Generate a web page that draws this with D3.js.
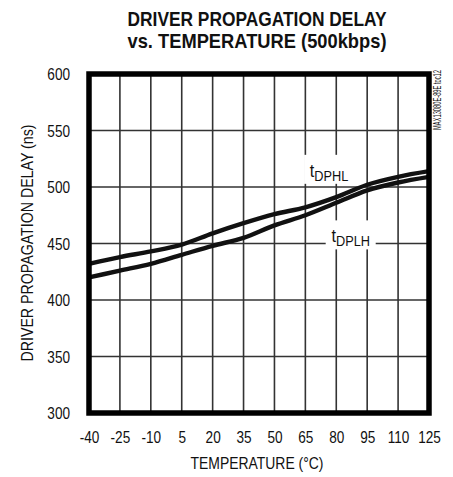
<!DOCTYPE html>
<html><head><meta charset="utf-8">
<script src="https://cdn.jsdelivr.net/npm/d3@7"></script>
<style>
html,body{margin:0;padding:0;background:#fff;}
svg{display:block;}
text{font-family:"Liberation Sans Narrow","Arial Narrow","Liberation Sans",sans-serif;fill:#111;}
</style></head>
<body>
<svg id="c" width="453" height="477"></svg>
<script>
const temps = [-40, -25, -10, 5, 20, 35, 50, 65, 80, 95, 110, 125];
const tDPHL = [432, 438, 443, 449, 459, 468, 476, 482, 491, 502, 509, 514];
const tDPLH = [420, 426, 432, 440, 448, 455, 466, 475, 486, 497, 504, 509];
const yTicks = [300, 350, 400, 450, 500, 550, 600];
const titleLines = ["DRIVER PROPAGATION DELAY", "vs. TEMPERATURE (500kbps)"];
const xTitle = "TEMPERATURE (°C)";
const yTitle = "DRIVER PROPAGATION DELAY (ns)";
const sideNote = "MAX13080E-89E toc12";

const svg = d3.select("#c");
const x = d3.scaleLinear().domain([-40, 125]).range([89, 429]);
const y = d3.scaleLinear().domain([300, 600]).range([413, 74]);

// grid
const g = svg.append("g");
g.selectAll("line.v").data(temps.slice(1, -1)).join("line")
  .attr("x1", d => x(d)).attr("x2", d => x(d)).attr("y1", y(600)).attr("y2", y(300))
  .attr("stroke", "#333").attr("stroke-width", 1.6);
g.selectAll("line.h").data(yTicks.slice(1, -1)).join("line")
  .attr("y1", d => y(d)).attr("y2", d => y(d)).attr("x1", x(-40)).attr("x2", x(125))
  .attr("stroke", "#333").attr("stroke-width", 1.6);

// labels with white backgrounds
function lbl(tx, vy, main, sub, w) {
  const cx = x(tx), by = y(vy);
  svg.append("rect").attr("x", cx - w / 2 - 5).attr("y", by - 22).attr("width", w + 10).attr("height", 29).attr("fill", "#fff");
  const t = svg.append("text").attr("text-anchor", "middle")
    .attr("transform", `translate(${cx},${by}) scale(0.85,1)`);
  t.append("tspan").attr("font-size", 19).text(main);
  t.append("tspan").attr("font-size", 15).attr("dy", 4).text(sub);
}
lbl(76.5, 509, "t", "DPHL", 40);
lbl(87, 451, "t", "DPLH", 40);

// lines
const line = d3.line().x((d, i) => x(temps[i])).y(d => y(d)).curve(d3.curveMonotoneX);
[tDPHL, tDPLH].forEach(s => {
  svg.append("path").attr("d", line(s)).attr("fill", "none").attr("stroke", "#111").attr("stroke-width", 4.4);
});

// frame
svg.append("rect").attr("x", x(-40)).attr("y", y(600)).attr("width", x(125) - x(-40)).attr("height", y(300) - y(600))
  .attr("fill", "none").attr("stroke", "#000").attr("stroke-width", 5.5);

// axes
const fmt = d => String(d);
const xAxis = d3.axisBottom(x).tickValues(temps).tickSize(0).tickPadding(0).tickFormat(fmt);
const xa = svg.append("g").attr("transform", "translate(0,443)").call(xAxis);
xa.select(".domain").remove();
xa.selectAll("text").attr("font-size", 17).attr("dy", 0).attr("fill", "#111")
  .attr("transform", "scale(0.8,1)")
  .style("font-family", '"Liberation Sans Narrow","Arial Narrow","Liberation Sans",sans-serif');

const yAxis = d3.axisLeft(y).tickValues(yTicks).tickSize(0).tickPadding(0).tickFormat(fmt);
const ya = svg.append("g").attr("transform", "translate(70,0)").call(yAxis);
ya.select(".domain").remove();
ya.selectAll("text").attr("font-size", 17).attr("dy", "0.35em").attr("fill", "#111")
  .attr("transform", "scale(0.8,1)")
  .style("font-family", '"Liberation Sans Narrow","Arial Narrow","Liberation Sans",sans-serif');

// titles
titleLines.forEach((s, i) => {
  svg.append("text").attr("x", 257).attr("y", 26 + i * 22).attr("text-anchor", "middle")
    .attr("font-size", 21).attr("font-weight", "bold").attr("textLength", 259).attr("lengthAdjust", "spacingAndGlyphs").text(s);
});
svg.append("text").attr("x", 257).attr("y", 469).attr("text-anchor", "middle").attr("font-size", 17)
  .attr("textLength", 133).attr("lengthAdjust", "spacingAndGlyphs").text(xTitle);
svg.append("text").attr("transform", "translate(33,243) rotate(-90)").attr("text-anchor", "middle").attr("font-size", 17)
  .attr("textLength", 237).attr("lengthAdjust", "spacingAndGlyphs").text(yTitle);
svg.append("text").attr("transform", "translate(441,100) rotate(-90)").attr("text-anchor", "middle").attr("font-size", 11)
  .attr("textLength", 60).attr("lengthAdjust", "spacingAndGlyphs").text(sideNote);
</script>
</body></html>
